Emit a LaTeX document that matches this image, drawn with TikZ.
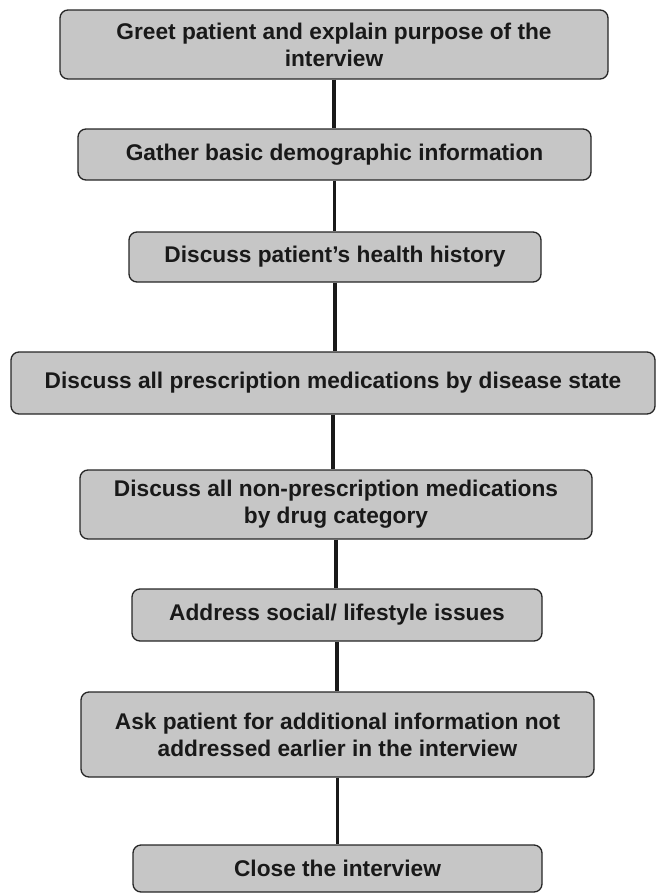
\documentclass[tikz,border=0pt]{standalone}
\usepackage{fontspec}
\setmainfont{Liberation Sans}
\begin{document}
\begin{tikzpicture}[x=1pt, y=-1pt,
	stepbox/.style={draw=black!85, line width=1.3pt, fill=gray!45, rounded corners=8pt,
		align=center, inner sep=0pt, text=black!90,
		font=\fontsize{22.7}{27}\selectfont\bfseries},
	link/.style={line width=3.5pt, black!90}]
	\useasboundingbox (0,0) rectangle (659,894);
	\node[stepbox, minimum width=548, minimum height=69] (greet) at (334,44.5) {Greet patient and explain purpose of the\\interview};
	\node[stepbox, minimum width=513, minimum height=51] (gather) at (334.5,154.5) {Gather basic demographic information};
	\node[stepbox, minimum width=412, minimum height=50] (history) at (335,257) {Discuss patient’s health history};
	\node[stepbox, minimum width=644, minimum height=62] (rx) at (333,383) {Discuss all prescription medications by disease state};
	\node[stepbox, minimum width=512, minimum height=69] (otc) at (336,504.5) {Discuss all non-prescription medications\\by drug category};
	\node[stepbox, minimum width=410, minimum height=52] (social) at (337,615) {Address social/ lifestyle issues};
	\node[stepbox, minimum width=513, minimum height=85] (ask) at (337.5,734.5) {Ask patient for additional information not\\addressed earlier in the interview};
	\node[stepbox, minimum width=409, minimum height=47] (close) at (337.5,868.5) {Close the interview};
	% connectors
	\draw[link] (greet.south) -- (greet.south |- gather.north);
	\draw[link] (gather.south) -- (gather.south |- history.north);
	\draw[link] (history.south) -- (history.south |- rx.north);
	\draw[link] (rx.south) -- (rx.south |- otc.north);
	\draw[link] (otc.south) -- (otc.south |- social.north);
	\draw[link] (social.south) -- (social.south |- ask.north);
	\draw[link] (ask.south) -- (ask.south |- close.north);
\end{tikzpicture}
\end{document}
